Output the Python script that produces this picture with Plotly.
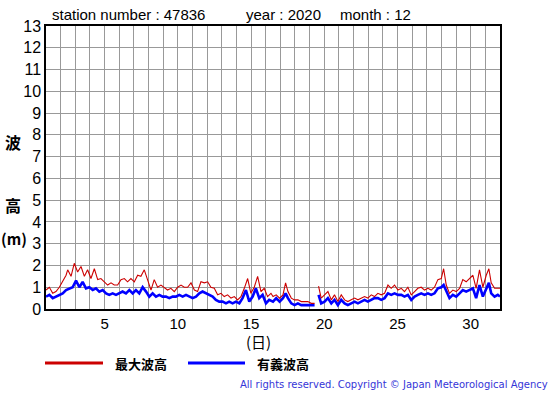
import plotly.graph_objects as go

# ---- data ----
max_day = [1.00, 1.23, 1.46, 1.68, 1.91, 2.14, 2.37, 2.48, 2.71, 2.93, 3.16, 3.39, 3.62, 3.84, 4.07, 4.30,
           4.53, 4.75, 4.98, 5.21, 5.44, 5.66, 5.89, 6.12, 6.35, 6.57, 6.80, 7.03, 7.26, 7.48, 7.71, 7.94,
           8.17, 8.39, 8.62, 8.85, 9.08, 9.30, 9.53, 9.76, 9.99, 10.22, 10.44, 10.67, 10.90, 11.13, 11.35,
           11.58, 11.81, 12.04, 12.26, 12.49, 12.72, 12.95, 13.17, 13.40, 13.63, 13.86, 14.08, 14.31, 14.54,
           14.77, 14.99, 15.22, 15.45, 15.68, 15.90, 16.13, 16.36,
           16.50, 16.72, 16.95, 17.18, 17.36, 17.52, 17.75, 17.97, 18.20, 18.43, 18.66, 18.88, 19.11, 19.34,
           19.45,
           19.61, 19.79, 20.02, 20.25, 20.48, 20.70, 20.93, 21.16, 21.39, 21.61, 21.84, 22.07, 22.30, 22.52,
           22.75, 22.98, 23.21, 23.43, 23.66, 23.89, 24.12, 24.35, 24.57, 24.80, 25.03, 25.26, 25.48, 25.71,
           25.94, 26.17, 26.39, 26.62, 26.85, 27.08, 27.30, 27.53, 27.76, 27.99, 28.15, 28.33, 28.55, 28.78,
           29.01, 29.24, 29.46, 29.69, 29.92, 30.15, 30.37, 30.60, 30.83, 31.06, 31.24, 31.40, 31.63, 31.85,
           32.00]
max_height = [0.87, 1.00, 0.72, 0.80, 1.00, 1.25, 1.55, 1.80, 1.50, 2.10, 1.70, 1.95, 1.50, 1.80, 1.40, 1.85,
              1.35, 1.40, 1.25, 1.10, 1.20, 1.10, 1.10, 1.35, 1.40, 1.25, 1.40, 1.25, 1.55, 1.50, 1.80, 1.35,
              0.87, 1.35, 1.00, 1.10, 1.00, 0.87, 0.95, 0.80, 1.00, 1.10, 1.00, 1.00, 1.20, 0.87, 0.80,
              1.25, 1.20, 1.25, 1.00, 0.95, 0.65, 0.72, 0.57, 0.65, 0.50, 0.57, 0.42, 0.57, 0.95,
              1.40, 0.72, 1.00, 1.50, 0.80, 0.95, 0.57, 0.72,
              0.57, 0.65, 0.50, 0.65, 1.20, 0.80, 0.50, 0.42, 0.42, 0.34, 0.34, 0.34, 0.26, 0.26,
              None,
              1.05, 0.50, 0.65, 0.80, 0.42, 0.65, 0.34, 0.65, 0.42, 0.34, 0.42, 0.50, 0.42, 0.50,
              0.57, 0.50, 0.65, 0.57, 0.72, 0.65, 0.72, 1.10, 0.95, 1.10, 0.87, 0.95, 0.80, 1.00,
              0.65, 0.80, 0.95, 1.00, 0.87, 0.95, 0.87, 1.00, 1.35, 1.40, 1.85, 1.10, 0.72, 0.87,
              0.80, 0.95, 1.35, 1.25, 1.40, 1.55, 0.95, 1.80, 1.00, 1.55, 1.85, 1.20, 0.95, 0.95,
              0.95]

sig_day = [1.00, 1.23, 1.46, 1.68, 1.91, 2.14, 2.37, 2.59, 2.82, 3.05, 3.28, 3.50, 3.73, 3.96, 4.19, 4.41,
           4.64, 4.87, 5.10, 5.32, 5.55, 5.78, 6.01, 6.23, 6.46, 6.69, 6.92, 7.14, 7.37, 7.60, 7.83, 8.05,
           8.28, 8.51, 8.74, 8.96, 9.19, 9.42, 9.65, 9.87, 10.10, 10.33, 10.56, 10.78, 11.01, 11.24, 11.47,
           11.69, 11.92, 12.15, 12.38, 12.60, 12.83, 13.06, 13.29, 13.51, 13.74, 13.97, 14.20, 14.42, 14.65,
           14.88, 15.11, 15.33, 15.56, 15.79, 16.02, 16.24,
           16.50, 16.72, 16.95, 17.18, 17.36, 17.52, 17.75, 17.97, 18.20, 18.43, 18.66, 18.88, 19.11, 19.34,
           19.45,
           19.61, 19.79, 20.02, 20.25, 20.48, 20.70, 20.93, 21.16, 21.39, 21.61, 21.84, 22.07, 22.30, 22.52,
           22.75, 22.98, 23.21, 23.43, 23.66, 23.89, 24.12, 24.35, 24.57, 24.80, 25.03, 25.26, 25.48, 25.71,
           25.94, 26.17, 26.39, 26.62, 26.85, 27.08, 27.30, 27.53, 27.76, 27.99, 28.15, 28.33, 28.55, 28.78,
           29.01, 29.24, 29.46, 29.69, 29.92, 30.15, 30.37, 30.60, 30.83, 31.06, 31.24, 31.40, 31.63, 31.85,
           32.00]
sig_height = [0.57, 0.65, 0.50, 0.57, 0.65, 0.72, 0.87, 0.95, 1.00, 1.30, 1.00, 1.25, 0.95, 1.00, 0.87, 0.95,
              0.80, 0.87, 0.72, 0.65, 0.72, 0.65, 0.72, 0.80, 0.72, 0.87, 0.72, 0.87, 0.72, 1.00, 0.80, 0.57,
              0.72, 0.57, 0.65, 0.57, 0.57, 0.50, 0.57, 0.57, 0.65, 0.57, 0.65, 0.57, 0.50, 0.57, 0.72,
              0.80, 0.72, 0.65, 0.57, 0.42, 0.34, 0.34, 0.26, 0.34, 0.26, 0.34, 0.26, 0.50, 0.87,
              0.34, 0.57, 0.95, 0.50, 0.65, 0.26, 0.42,
              0.34, 0.50, 0.34, 0.50, 0.72, 0.50, 0.26, 0.18, 0.26, 0.18, 0.18, 0.18, 0.15, 0.18,
              None,
              0.65, 0.26, 0.34, 0.50, 0.26, 0.42, 0.18, 0.42, 0.26, 0.18, 0.26, 0.34, 0.26, 0.34,
              0.42, 0.34, 0.42, 0.50, 0.50, 0.42, 0.50, 0.72, 0.65, 0.72, 0.65, 0.65, 0.57, 0.65,
              0.42, 0.57, 0.65, 0.72, 0.65, 0.72, 0.65, 0.72, 0.95, 1.00, 1.10, 0.80, 0.50, 0.65,
              0.57, 0.72, 0.87, 0.80, 0.87, 0.95, 0.50, 1.10, 0.57, 0.95, 1.20, 0.72, 0.57, 0.65,
              0.57]

x_ticks = [5, 10, 15, 20, 25, 30]
y_ticks = list(range(0, 14))

RED = "#cc0000"
BLUE = "#0000ff"
FONT = "Liberation Sans, Arial, sans-serif"
CJK = "Noto Sans CJK JP, sans-serif"

fig = go.Figure()
fig.add_trace(go.Scatter(x=sig_day, y=sig_height, mode="lines", line=dict(color=BLUE, width=2.6),
                         showlegend=False, hoverinfo="skip"))
fig.add_trace(go.Scatter(x=max_day, y=max_height, mode="lines", line=dict(color=RED, width=1.1),
                         showlegend=False, hoverinfo="skip"))

fig.update_layout(
    width=555, height=395,
    margin=dict(l=46, r=55, t=26, b=86),
    paper_bgcolor="white", plot_bgcolor="white",
    font=dict(family=FONT, color="black"),
    xaxis=dict(range=[1, 32], tickvals=x_ticks, ticktext=[str(v) for v in x_ticks],
               showgrid=True, gridcolor="#999999", gridwidth=1,
               minor=dict(dtick=1, tick0=1, showgrid=True, gridcolor="#999999", gridwidth=1),
               showline=True, linecolor="black", linewidth=1.5, mirror=True,
               ticks="", tickfont=dict(size=15, family=FONT), zeroline=False, fixedrange=True),
    yaxis=dict(range=[0, 13], tickvals=y_ticks, ticktext=[str(v) for v in y_ticks],
               showgrid=True, gridcolor="#999999", gridwidth=1,
               showline=True, linecolor="black", linewidth=1.5, mirror=True,
               ticks="", tickfont=dict(size=16, family=FONT), zeroline=False, fixedrange=True),
)

# helpers: reference pixel -> paper coords of the plot area (46..500, 26..309)
def px_x(p):
    return (p - 46) / 454.0

def px_y(p):
    return (309 - p) / 283.0

ann = []
for txt, xp in [("station number : 47836", 50), ("year : 2020", 244), ("month : 12", 338)]:
    ann.append(dict(text=txt, x=px_x(xp), y=px_y(15), xref="paper", yref="paper",
                    xanchor="left", yanchor="middle", showarrow=False,
                    font=dict(size=15, family=FONT, color="black")))
for txt, yp in [("波", 142), ("高", 205)]:
    ann.append(dict(text="<b>%s</b>" % txt, x=px_x(13), y=px_y(yp), xref="paper", yref="paper",
                    xanchor="center", yanchor="middle", showarrow=False,
                    font=dict(size=16, family=CJK, color="black")))
ann.append(dict(text="<b>(m)</b>", x=px_x(14), y=px_y(238), xref="paper", yref="paper",
                xanchor="center", yanchor="middle", showarrow=False,
                font=dict(size=15, family=CJK, color="black")))
ann.append(dict(text="(日)", x=px_x(258), y=px_y(341), xref="paper", yref="paper",
                xanchor="center", yanchor="middle", showarrow=False, borderpad=0,
                font=dict(size=15, family=CJK, color="black")))
for txt, xp in [("最大波高", 113), ("有義波高", 255)]:
    ann.append(dict(text="<b>%s</b>" % txt, x=px_x(xp), y=px_y(363), xref="paper", yref="paper",
                    xanchor="left", yanchor="middle", showarrow=False,
                    font=dict(size=13, family=CJK, color="black")))
ann.append(dict(text="All rights reserved. Copyright © Japan Meteorological Agency",
                x=px_x(550), y=px_y(384), xref="paper", yref="paper",
                xanchor="right", yanchor="middle", showarrow=False,
                font=dict(size=10, family="DejaVu Sans, sans-serif", color="#3535d8")))
fig.update_layout(annotations=ann)

shapes = []
for col, x0, x1 in [(RED, 45, 103), (BLUE, 188, 245)]:
    shapes.append(dict(type="line", xref="paper", yref="paper",
                       x0=px_x(x0), x1=px_x(x1), y0=px_y(363), y1=px_y(363),
                       line=dict(color=col, width=3)))
fig.update_layout(shapes=shapes)

fig.write_html("out.html", config={"displayModeBar": False},
               post_script="document.body.style.margin='0';")
